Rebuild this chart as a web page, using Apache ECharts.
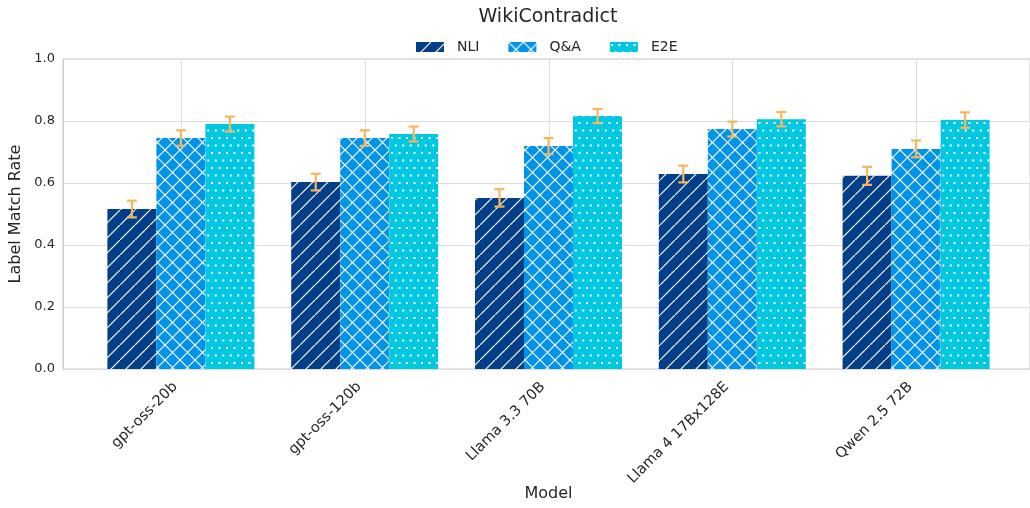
<!DOCTYPE html>
<html>
<head>
<meta charset="utf-8">
<script src="https://cdn.jsdelivr.net/npm/echarts@6/dist/echarts.min.js"></script>
<style>
  html, body { margin: 0; padding: 0; background: #fff; }
  #chart { width: 1030px; height: 508px; }
</style>
</head>
<body>
<div id="chart"></div>
<script>
var models = ['gpt-oss-20b', 'gpt-oss-120b', 'Llama 3.3 70B', 'Llama 4 17Bx128E', 'Qwen 2.5 72B'];
var seriesNames = ['NLI', 'Q&A', 'E2E'];
var nliValues = [0.516, 0.603, 0.552, 0.629, 0.623];
var qaValues = [0.745, 0.745, 0.719, 0.774, 0.710];
var e2eValues = [0.790, 0.758, 0.816, 0.806, 0.803];
var nliErr = [0.027, 0.027, 0.028, 0.027, 0.029];
var qaErr = [0.025, 0.025, 0.026, 0.024, 0.027];
var e2eErr = [0.024, 0.024, 0.023, 0.023, 0.025];

var FONT = 'DejaVu Sans';
var colors = ['#023e8a', '#0094e8', '#00c8e2'];

// hatch tiles, like matplotlib's / x . hatches
function makeTile(kind, bg) {
  var c = document.createElement('canvas');
  c.width = 15; c.height = 15;
  var ctx = c.getContext('2d');
  ctx.fillStyle = bg;
  ctx.fillRect(0, 0, 15, 15);
  ctx.strokeStyle = '#ffffff';
  ctx.fillStyle = '#ffffff';
  ctx.lineWidth = 1.2;
  if (kind === 'slash' || kind === 'cross') {
    ctx.beginPath();
    ctx.moveTo(-1, 16); ctx.lineTo(16, -1);
    ctx.stroke();
  }
  if (kind === 'cross') {
    ctx.beginPath();
    ctx.moveTo(-1, -1); ctx.lineTo(16, 16);
    ctx.stroke();
  }
  if (kind === 'dots') {
    var pts = [[2, 3], [9.5, 3], [5.75, 10.5], [13.25, 10.5]];
    pts.forEach(function (p) { ctx.fillRect(p[0] - 1, p[1] - 1, 2, 2); });
  }
  return c;
}

var patterns = [
  { image: makeTile('slash', colors[0]), repeat: 'repeat' },
  { image: makeTile('cross', colors[1]), repeat: 'repeat' },
  { image: makeTile('dots', colors[2]), repeat: 'repeat' }
];

var allValues = [nliValues, qaValues, e2eValues];
var allErr = [nliErr, qaErr, e2eErr];

var errData = [];
allValues.forEach(function (vals, s) {
  vals.forEach(function (v, i) {
    errData.push([i, v - allErr[s][i], v + allErr[s][i], s]);
  });
});

var BAR_W = 49;

var chart = echarts.init(document.getElementById('chart'), null, { renderer: 'canvas' });

var option = {
  backgroundColor: '#ffffff',
  animation: false,
  textStyle: { fontFamily: FONT },
  title: {
    text: 'WikiContradict',
    left: 543,
    textAlign: 'center',
    top: 3,
    textStyle: { fontFamily: FONT, fontSize: 19, fontWeight: 'normal', color: '#262626' }
  },
  legend: {
    data: seriesNames,
    top: 35,
    left: 411,
    itemWidth: 28,
    itemHeight: 10,
    itemGap: 29,
    icon: 'rect',
    textStyle: { fontFamily: FONT, fontSize: 14, color: '#262626', padding: [0, 0, 0, 8] }
  },
  grid: [
    { left: 63, right: 0, top: 59, bottom: 139, outerBoundsMode: 'none', show: true, borderColor: '#cccccc', borderWidth: 1 },
    { left: 89, right: 22, top: 59, bottom: 139, outerBoundsMode: 'none' }
  ],
  xAxis: [
    { gridIndex: 0, type: 'value', min: 0, max: 1, show: false },
    {
      gridIndex: 1,
      type: 'category',
      data: models,
      name: 'Model',
      nameLocation: 'middle',
      nameGap: 117,
      nameMoveOverlap: false,
      nameTextStyle: { fontFamily: FONT, fontSize: 16, color: '#262626' },
      axisLine: { show: false },
      axisTick: { show: false },
      splitLine: { show: false },
      axisLabel: { rotate: 45, margin: 10, padding: [0, 8, 0, 0], fontFamily: FONT, fontSize: 14.5, color: '#262626' }
    }
  ],
  yAxis: [
    {
      gridIndex: 0,
      type: 'value',
      min: 0, max: 1, interval: 0.2,
      name: 'Label Match Rate',
      nameLocation: 'middle',
      nameGap: 35,
      nameTextStyle: { fontFamily: FONT, fontSize: 16, color: '#262626' },
      axisLine: { show: true, lineStyle: { color: '#cccccc' } },
      axisTick: { show: false },
      splitLine: { show: true, lineStyle: { color: '#dddddd', width: 1 } },
      axisLabel: {
        margin: 8, fontFamily: FONT, fontSize: 13, color: '#262626',
        formatter: function (v) { return v.toFixed(1); }
      }
    },
    { gridIndex: 1, type: 'value', min: 0, max: 1, show: false }
  ],
  series: [
    {
      // vertical grid lines at category centres
      type: 'custom',
      xAxisIndex: 1, yAxisIndex: 1,
      silent: true,
      z: 0,
      data: models.map(function (m, i) { return [i]; }),
      renderItem: function (params, api) {
        var top = api.coord([api.value(0), 1]);
        var bot = api.coord([api.value(0), 0]);
        return {
          type: 'line',
          shape: { x1: Math.round(top[0]) + 0.5, y1: top[1], x2: Math.round(top[0]) + 0.5, y2: bot[1] },
          style: { stroke: '#dddddd', lineWidth: 1 }
        };
      }
    }
  ].concat(seriesNames.map(function (name, s) {
    return {
      name: name,
      type: 'bar',
      xAxisIndex: 1, yAxisIndex: 1,
      data: allValues[s],
      barWidth: BAR_W,
      barGap: '0%',
      z: 2,
      itemStyle: { color: patterns[s] }
    };
  })).concat([
    {
      // error bars
      type: 'custom',
      xAxisIndex: 1, yAxisIndex: 1,
      silent: true,
      z: 5,
      data: errData,
      encode: { x: 0, y: [1, 2] },
      renderItem: function (params, api) {
        var cat = api.value(0);
        var s = api.value(3);
        var lo = api.coord([cat, api.value(1)]);
        var hi = api.coord([cat, api.value(2)]);
        var x = lo[0] + (s - 1) * BAR_W;
        var cap = 5;
        var st = { stroke: '#f7b65c', lineWidth: 2.2 };
        return {
          type: 'group',
          children: [
            { type: 'line', shape: { x1: x, y1: lo[1], x2: x, y2: hi[1] }, style: st },
            { type: 'line', shape: { x1: x - cap, y1: lo[1], x2: x + cap, y2: lo[1] }, style: st },
            { type: 'line', shape: { x1: x - cap, y1: hi[1], x2: x + cap, y2: hi[1] }, style: st }
          ]
        };
      }
    }
  ])
};

chart.setOption(option);
</script>
</body>
</html>
